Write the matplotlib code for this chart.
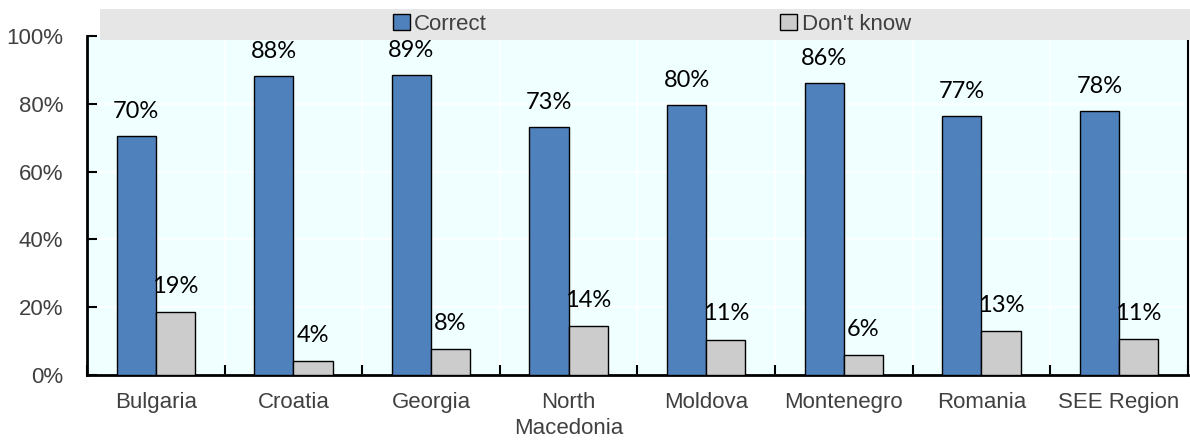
import numpy as np
import matplotlib
matplotlib.use("Agg")
import matplotlib.pyplot as plt
from matplotlib.patches import Rectangle, Patch

countries = ["Bulgaria", "Croatia", "Georgia", "North\nMacedonia", "Moldova",
             "Montenegro", "Romania", "SEE Region"]
correct = [70.4, 88.2, 88.6, 73.3, 79.6, 86.1, 76.5, 77.9]
dont_know = [18.6, 4.2, 7.6, 14.4, 10.5, 6.0, 12.9, 10.6]
correct_labels = ["70%", "88%", "89%", "73%", "80%", "86%", "77%", "78%"]
dont_know_labels = ["19%", "4%", "8%", "14%", "11%", "6%", "13%", "11%"]

BLUE = "#4f81bd"
GREY = "#cccccc"
TICK_FONT = ["Liberation Sans", "DejaVu Sans"]
VALUE_FONT = ["Lato", "DejaVu Sans"]


def chart():
    fig = plt.figure(figsize=(11.9, 4.44), dpi=100)
    ax = fig.add_axes([0.0731, 0.155, 0.925, 0.764])
    ax.set_facecolor("#f0ffff")

    x = np.arange(len(countries))
    w = 0.285
    ax.bar(x - w / 2, correct, w, color=BLUE, edgecolor="black", linewidth=1, zorder=3)
    ax.bar(x + w / 2, dont_know, w, color=GREY, edgecolor="black", linewidth=1, zorder=3)

    for i in range(len(countries)):
        ax.annotate(correct_labels[i], (x[i] - w / 2, correct[i]), xytext=(0, 10),
                    textcoords="offset points", ha="center", va="bottom",
                    fontsize=17, family=VALUE_FONT, zorder=4)
        ax.annotate(dont_know_labels[i], (x[i] + w / 2, dont_know[i]), xytext=(0, 11),
                    textcoords="offset points", ha="center", va="bottom",
                    fontsize=17, family=VALUE_FONT, zorder=4)

    ax.set_xlim(-0.5, len(countries) - 0.5)
    ax.set_ylim(0, 100)
    ax.set_yticks(range(0, 101, 20))
    ax.set_yticklabels([f"{v}%" for v in range(0, 101, 20)], family=TICK_FONT,
                       fontsize=16, color="#404040")
    ax.set_xticks(x)
    ax.set_xticklabels(countries, family=TICK_FONT, fontsize=16, color="#404040",
                       linespacing=1.3)
    ax.set_xticks(np.arange(len(countries) + 1) - 0.5, minor=True)
    ax.tick_params(axis="x", which="major", length=0, pad=12)
    ax.tick_params(axis="x", which="minor", direction="in", length=7, width=1.5)
    ax.tick_params(axis="y", direction="in", length=7, width=1.5, pad=17)

    ax.grid(True, axis="y", color="white", linewidth=1.2, zorder=1)
    ax.grid(True, axis="x", which="minor", color="white", linewidth=1.2, zorder=1)
    ax.set_axisbelow(True)

    for s in ["left", "bottom"]:
        ax.spines[s].set_linewidth(2)
    ax.spines["right"].set_linewidth(1.5)
    ax.spines["top"].set_visible(False)

    # grey legend band at top
    fig.patches.append(Rectangle((100 / 1190, 1 - 40 / 444), 1090 / 1190, 31 / 444,
                                 transform=fig.transFigure, facecolor="#e6e6e6",
                                 edgecolor="none", zorder=5))
    handles = [Patch(facecolor=BLUE, edgecolor="black"),
               Patch(facecolor=GREY, edgecolor="black")]
    leg = fig.legend(handles, ["Correct", "Don't know"], loc="center",
                     bbox_to_anchor=(652 / 1190, 1 - 24 / 444), ncol=2, frameon=False,
                     prop={"family": TICK_FONT, "size": 16}, handlelength=0.75,
                     handleheight=0.75, handletextpad=0.2, columnspacing=13.2)
    leg.set_zorder(6)
    for t in leg.get_texts():
        t.set_color("#404040")

    fig.savefig("out.png", dpi=100)


if __name__ == "__main__":
    chart()
